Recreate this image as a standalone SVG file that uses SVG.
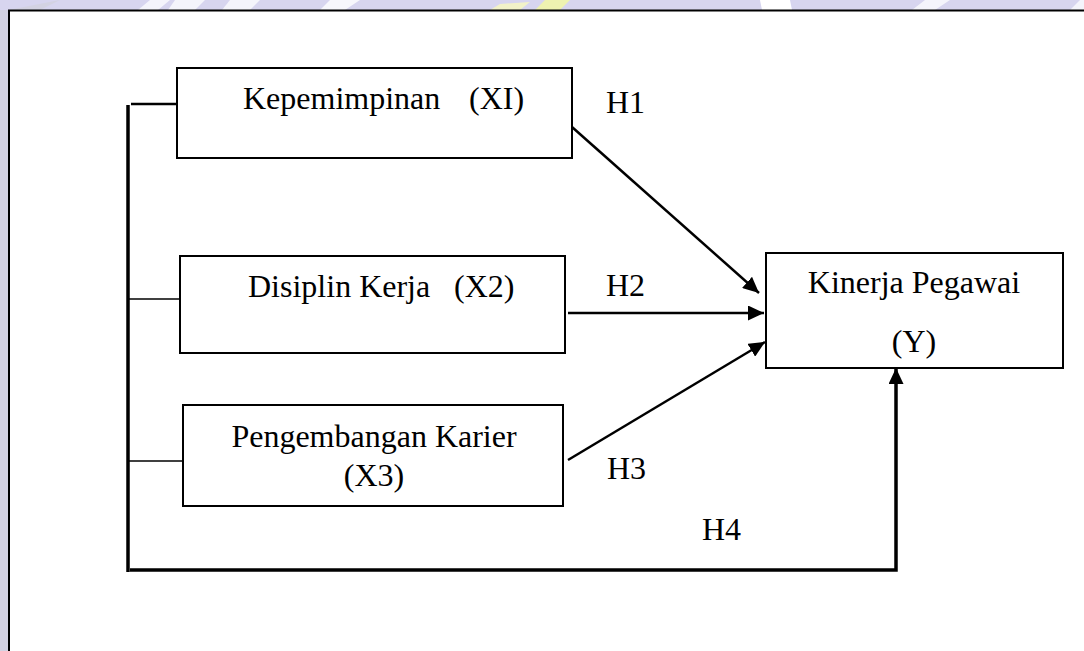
<svg xmlns="http://www.w3.org/2000/svg" width="1084" height="651" viewBox="0 0 1084 651">
  <style>
    .box { fill: #ffffff; stroke: #000000; stroke-width: 2; }
    .lbl { font-family: "Liberation Serif", "Times New Roman", serif; font-size: 32px; fill: #000000; }
    .edge { fill: none; stroke: #000000; stroke-width: 2.5; }
    .thick { fill: none; stroke: #000000; stroke-width: 3.5; }
    .thin { fill: none; stroke: #000000; stroke-width: 1.5; }
  </style>
  <defs>
    <marker id="arrow" markerUnits="userSpaceOnUse" markerWidth="17" markerHeight="15" refX="16" refY="7.5" orient="auto">
      <path d="M0,0 L16,7.5 L0,15 z" fill="#000000"/>
    </marker>
  </defs>

  <!-- background / frame -->
  <rect x="0" y="0" width="1084" height="651" fill="#d7d5ef"/>
  <path d="M60,0 L40,10 L0,10 L0,651 L9,651 L9,10 Z" fill="#d0d0d8" opacity="0.6"/>
  <path d="M150,0 L170,0 L158,10 L138,10 Z" fill="#f4f4fb"/>
  <path d="M175,0 L205,0 L195,10 L168,10 Z" fill="#f4f4fb"/>
  <path d="M230,0 L260,0 L250,10 L222,10 Z" fill="#f4f4fb"/>
  <path d="M330,0 L360,0 L345,10 L320,10 Z" fill="#f7f7fc"/>
  <path d="M500,4 L530,2 L520,10 L490,10 Z" fill="#f2f2c8"/>
  <path d="M545,0 L570,0 L560,10 L535,10 Z" fill="#eef2b0"/>
  <path d="M760,0 L790,0 L792,10 L762,10 Z" fill="#ffffff"/>
  <path d="M925,0 L950,0 L935,10 L912,10 Z" fill="#f4f4fb"/>
  <path d="M1080,0 L1084,0 L1084,10 L1070,10 Z" fill="#f4f4fb"/>
  <rect x="9" y="10.5" width="1090" height="660" fill="#ffffff" stroke="#000000" stroke-width="2"/>

  <!-- connectors -->
  <g id="connectors">
    <path class="thick" d="M128,105 L128,572"/>
    <path class="edge" d="M131,104 L180,104"/>
    <path class="thin" d="M128,299 L180,299"/>
    <path class="thin" d="M128,461 L185,461"/>
    <path class="thick" d="M130,570 L896,570 L896,368" marker-end="url(#arrow)"/>
    <path class="edge" d="M572,127 L759,293" marker-end="url(#arrow)"/>
    <path class="edge" d="M568,313 L764,313" marker-end="url(#arrow)"/>
    <path class="edge" d="M568,460 L765,342" marker-end="url(#arrow)"/>
  </g>

  <g id="node-x1">
    <rect class="box" x="177" y="68" width="395" height="90"/>
    <text class="lbl" y="109"><tspan x="243">Kepemimpinan</tspan><tspan x="469">(XI)</tspan></text>
  </g>

  <g id="node-x2">
    <rect class="box" x="180" y="256" width="385" height="97"/>
    <text class="lbl" y="297"><tspan x="248">Disiplin Kerja</tspan><tspan x="454">(X2)</tspan></text>
  </g>

  <g id="node-x3">
    <rect class="box" x="183" y="405" width="380" height="101"/>
    <text class="lbl" x="374" y="447" text-anchor="middle">Pengembangan Karier</text>
    <text class="lbl" x="374" y="486" text-anchor="middle">(X3)</text>
  </g>

  <g id="node-y">
    <rect class="box" x="766" y="253" width="297" height="115"/>
    <text class="lbl" x="914" y="293" text-anchor="middle">Kinerja Pegawai</text>
    <text class="lbl" x="914" y="352" text-anchor="middle">(Y)</text>
  </g>

  <g id="labels">
    <text class="lbl" x="606" y="113">H1</text>
    <text class="lbl" x="606" y="296">H2</text>
    <text class="lbl" x="607" y="479">H3</text>
    <text class="lbl" x="702" y="540">H4</text>
  </g>
</svg>
